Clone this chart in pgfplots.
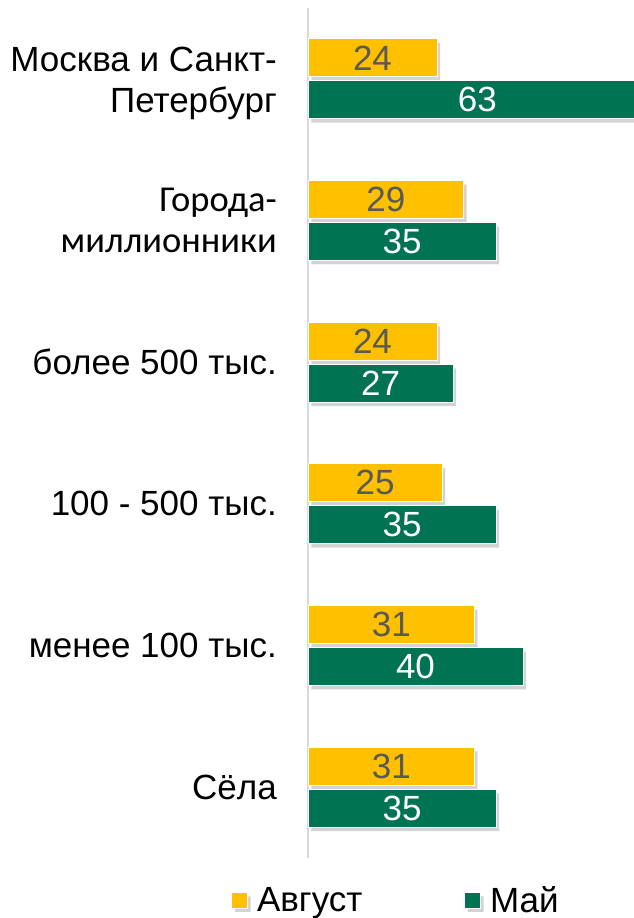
\documentclass[border=0pt]{standalone}
\usepackage{pgfplots}
\pgfplotsset{compat=1.18}
\usepackage{fontspec}
\setmainfont{Liberation Sans}
\newfontfamily\carlito{Carlito}
\usetikzlibrary{shadows}
\definecolor{yel}{HTML}{FFC000}
\definecolor{grn}{HTML}{007353}
\definecolor{lab}{HTML}{595959}
\begin{document}
\begin{tikzpicture}
\begin{axis}[
  at={(308pt,60pt)}, anchor=south west,
  scale only axis, width=376.25pt, height=850pt,
  xbar, xmin=0, xmax=70, ymin=-0.5, ymax=5.5,
  axis x line=none, axis y line*=left,
  y axis line style={draw=black!15, line width=1.5pt, -},
  ytick={0,1,2,3,4,5},
  yticklabels={Сёла,менее 100 тыс.,100 - 500 тыс.,более 500 тыс.,{\carlito\fontsize{36.5}{41}\selectfont Города-\\\carlito\fontsize{36.5}{41}\selectfont миллионники},{\rule{0pt}{34pt}Москва и Санкт-\\Петербург}},
  major tick length=0pt,
  yticklabel style={anchor=east, align=right, inner sep=0pt, xshift=-31pt, font=\fontsize{35}{41}\selectfont},
  bar width=38pt,
  /pgf/number format/assume math mode=true,
  visualization depends on={rawx \as \rawx},
  nodes near coords,
  every node near coord/.append style={anchor=center, font=\fontsize{35}{41}\selectfont, shift={(axis direction cs:-\rawx/2,0)}},
  legend columns=2,
  legend style={at={(0.2339,-0.0494)}, anchor=center, draw=none, fill=none, font=\fontsize{35}{41}\selectfont,
    /tikz/every even column/.append style={column sep=100pt}},
  legend image code/.code={\fill[#1] (0pt,-8pt) rectangle (16pt,8pt); \path (23pt,0pt);},
]
\addplot[fill=yel, draw=white, line width=0.8pt, bar shift=21pt,
  drop shadow={shadow xshift=3pt, shadow yshift=-4pt, opacity=0.35},
  every node near coord/.append style={text=lab}]
  coordinates {(31,0) (31,1) (25,2) (24,3) (29,4) (24,5)};
\addplot[fill=grn, draw=white, line width=0.8pt, bar shift=-21pt,
  drop shadow={shadow xshift=3pt, shadow yshift=-4pt, opacity=0.35},
  every node near coord/.append style={text=white}]
  coordinates {(35,0) (40,1) (35,2) (27,3) (35,4) (63,5)};
\legend{Август,Май}
\end{axis}
\pgfresetboundingbox
\useasboundingbox (0,0) rectangle (634pt,918pt);
\end{tikzpicture}
\end{document}
